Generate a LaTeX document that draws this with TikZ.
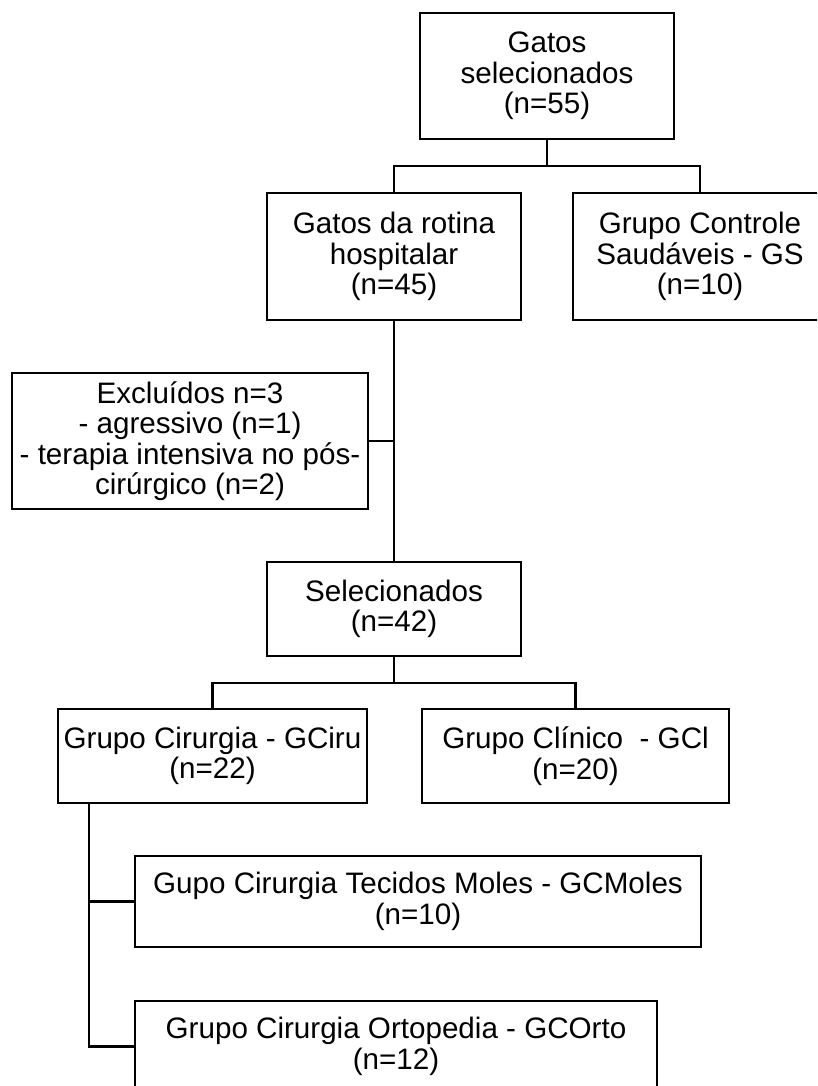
\documentclass[tikz,border=0pt]{standalone}
\usepackage{fontspec}
\setmainfont{Liberation Sans}
\begin{document}
\begin{tikzpicture}[x=1pt,y=-1pt,
  box/.style={draw, line width=2.6pt, inner sep=0pt, align=center,
    font=\fontsize{29.6}{30.5}\selectfont},
  conn/.style={line width=2.4pt}]
\useasboundingbox (0,0) rectangle (817,1086);
\clip (0,0) rectangle (817,1086);
% boxes
\node[box, minimum width=254pt, minimum height=126pt] (n1) at (547,76) {Gatos\\selecionados\\(n=55)};
\node[box, minimum width=254pt, minimum height=127pt] (n2) at (394,256.5) {Gatos da rotina\\hospitalar\\(n=45)};
\node[box, minimum width=254pt, minimum height=127pt] (n3) at (700,256.5) {Grupo Controle\\Saudáveis - GS\\(n=10)};
\node[box, minimum width=356pt, minimum height=136pt] (n4) at (190,441) {Excluídos n=3\\- agressivo (n=1)\\- terapia intensiva no pós-\\cirúrgico (n=2)};
\node[box, minimum width=254pt, minimum height=94pt] (n5) at (394,609) {Selecionados\\(n=42)};
\node[box, minimum width=309pt, minimum height=94pt] (n6) at (212.5,756) {Grupo Cirurgia - GCiru\\(n=22)};
\node[box, minimum width=307pt, minimum height=94pt] (n7) at (575.5,756) {Grupo Clínico~ - GCl\\(n=20)};
\node[box, minimum width=566pt, minimum height=91pt] (n8) at (418,901.5) {Gupo Cirurgia Tecidos Moles - GCMoles\\(n=10)};
\node[box, minimum width=522pt, minimum height=91pt] (n9) at (396,1046.5) {Grupo Cirurgia Ortopedia - GCOrto\\(n=12)};
% junctions
\coordinate (j1) at (547,166);
\coordinate (j2) at (394,441);
\coordinate (j3) at (394,683);
\coordinate (j4) at (89,803);
% connectors
\draw[conn] (n1.south) -- (j1);
\draw[conn] (n2.north) |- (j1) -| (n3.north);
\draw[conn] (n2.south) -- (n5.north);
\draw[conn] (n4.east) -- (j2);
\draw[conn] (n5.south) -- (j3);
\draw[conn] (n6.north) |- (j3) -| (n7.north);
\draw[conn] (j4) |- (n8.west);
\draw[conn] (j4) |- (n9.west);
\end{tikzpicture}
\end{document}
